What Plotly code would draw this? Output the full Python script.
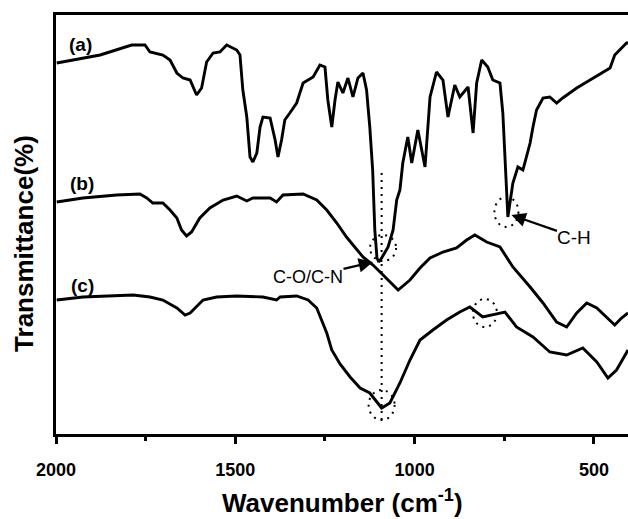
import plotly.graph_objects as go

# ---- data (wavenumber cm^-1, relative transmittance) ----
wn_a = [1998, 1877, 1789, 1752, 1738, 1702, 1682, 1663, 1646, 1626, 1608, 1594, 1580, 1562, 1543,
        1524, 1496, 1487, 1479, 1468, 1459, 1451, 1440, 1431, 1423, 1403, 1389, 1381, 1371, 1362,
        1348, 1329, 1311, 1283, 1264, 1250, 1242, 1231, 1222, 1214, 1200, 1186, 1172, 1158, 1144,
        1134, 1125, 1117, 1111, 1105, 1100, 1092, 1074, 1060, 1050, 1041, 1033, 1019, 1008, 991,
        971, 957, 939, 921, 907, 888, 874, 851, 837, 827, 813, 796, 782, 762, 754,
        743, 740, 726, 712, 698, 678, 670, 660, 642, 623, 604, 587, 548, 511, 475,
        455, 442, 428, 409, 405]
tr_a = [371, 379, 389, 389, 382, 379, 374, 361, 356, 354, 339, 346, 372, 381, 382,
        389, 384, 379, 344, 317, 277, 272, 281, 307, 317, 316, 294, 277, 294, 314,
        321, 331, 351, 357, 369, 367, 334, 307, 334, 352, 341, 356, 337, 356, 361,
        344, 307, 264, 204, 176, 172, 176, 187, 204, 234, 244, 271, 297, 271, 304,
        267, 337, 362, 354, 317, 349, 337, 347, 301, 351, 374, 367, 354, 351, 321,
        237, 217, 251, 267, 264, 291, 307, 324, 336, 337, 331, 336, 346, 354, 362,
        366, 379, 384, 391, 391]

wn_b = [1998, 1925, 1831, 1766, 1747, 1730, 1702, 1682, 1663, 1650, 1636, 1622, 1599, 1571, 1534,
        1496, 1468, 1451, 1403, 1385, 1367, 1311, 1273, 1245, 1217, 1190, 1144, 1116, 1088, 1046,
        1013, 985, 957, 921, 883, 855, 832, 799, 762, 726, 678, 642, 604, 576, 548,
        520, 492, 465, 442, 423, 405]
tr_b = [232, 236, 239, 240, 236, 231, 231, 224, 216, 204, 198, 202, 216, 226, 234,
        238, 233, 236, 236, 232, 239, 240, 234, 224, 211, 197, 177, 169, 159, 144,
        154, 166, 176, 182, 186, 194, 199, 192, 187, 167, 147, 131, 112, 107, 121,
        131, 126, 117, 109, 116, 121]

wn_c = [1998, 1925, 1785, 1738, 1702, 1663, 1640, 1626, 1590, 1552, 1496, 1423, 1385, 1375, 1329,
        1297, 1273, 1259, 1245, 1231, 1208, 1180, 1152, 1125, 1092, 1069, 1041, 1013, 985, 949,
        911, 874, 846, 810, 782, 748, 716, 670, 623, 576, 531, 492, 461, 437, 405]
tr_c = [134, 137, 139, 137, 134, 126, 119, 121, 134, 137, 138, 137, 134, 137, 138,
        134, 126, 114, 101, 84, 70, 57, 46, 41, 26, 31, 51, 74, 94, 104,
        114, 122, 127, 117, 119, 122, 107, 97, 82, 79, 86, 72, 56, 64, 84]

series_labels = ["(a)", "(b)", "(c)"]
label_wn = [1933, 1927, 1927]
label_tr = [390, 251, 149]

tick_vals = [2000, 1500, 1000, 500]
tick_text = ["2000", "1500", "1000", "500"]
minor_vals = [1750, 1250, 750]

# marked bands
guide_wn = 1092
guide_tr = [14, 261]
ellipse_wn = [1088, 744, 804, 1092]
ellipse_tr = [186, 222, 121, 29]
ellipse_rx = [13, 12, 12, 13]
ellipse_ry = [13, 15, 14, 15]

# band labels: text, arrow-head position (wn, tr)
band_text = ["C-O/C-N", "C-H"]
band_wn = [1116, 730]
band_tr = [172, 219]

FONT = "Arial, 'Liberation Sans', Helvetica, sans-serif"

fig = go.Figure()
for wn, tr in [(wn_a, tr_a), (wn_b, tr_b), (wn_c, tr_c)]:
    fig.add_trace(go.Scatter(x=wn, y=tr, mode="lines",
                             line=dict(color="black", width=2.9),
                             showlegend=False, hoverinfo="skip"))

# vertical dotted guide
fig.add_trace(go.Scatter(x=[guide_wn, guide_wn], y=guide_tr, mode="lines",
                         line=dict(color="black", width=2, dash="2px,5px"),
                         showlegend=False, hoverinfo="skip"))

for cx, cy, rx, ry in zip(ellipse_wn, ellipse_tr, ellipse_rx, ellipse_ry):
    fig.add_shape(type="circle", xref="x", yref="y",
                  xsizemode="pixel", ysizemode="pixel",
                  xanchor=cx, yanchor=cy,
                  x0=-rx, x1=rx, y0=-ry, y1=ry,
                  line=dict(color="black", width=2, dash="2px,5px"))

for lab, lx, ly in zip(series_labels, label_wn, label_tr):
    fig.add_annotation(x=lx, y=ly, text="<b>%s</b>" % lab, showarrow=False,
                       font=dict(family=FONT, size=19, color="black"))

# band labels with arrows (text offset in px from the arrow head)
offsets = [(-65, 15), (63, 22)]
sizes = [18, 19]
for txt, hx, hy, (ox, oy), fs in zip(band_text, band_wn, band_tr, offsets, sizes):
    fig.add_annotation(x=hx, y=hy, text=txt, showarrow=True, ax=ox, ay=oy,
                       arrowhead=2, arrowsize=1.3, arrowwidth=2.2,
                       arrowcolor="black", standoff=0, borderpad=0,
                       font=dict(family=FONT, size=fs, color="black"))

# axis titles
fig.add_annotation(xref="paper", yref="paper", x=-0.056, y=0.456,
                   xanchor="center", yanchor="middle",
                   text="<b>Transmittance(%)</b>", textangle=-90, showarrow=False,
                   font=dict(family=FONT, size=26, color="black"))
fig.add_annotation(xref="paper", yref="paper", x=0.5, y=-0.162,
                   xanchor="center", yanchor="middle",
                   text="<b>Wavenumber (cm<sup>-1</sup>)</b>", showarrow=False,
                   font=dict(family=FONT, size=26, color="black"))

fig.update_layout(
    width=628, height=519,
    margin=dict(l=56, r=0, t=15, b=85),
    paper_bgcolor="white", plot_bgcolor="white",
    font=dict(family=FONT, color="black"),
    xaxis=dict(range=[2000, 405], showgrid=False, zeroline=False,
               showline=True, linecolor="black", linewidth=3, mirror=True,
               ticks="outside", ticklen=7, tickwidth=2.5, tickcolor="black",
               tickvals=tick_vals, ticktext=["<b>%s</b>" % t for t in tick_text],
               tickfont=dict(family=FONT, size=18, color="black"),
               ticklabelstandoff=10,
               minor=dict(tickvals=minor_vals, ticks="outside", ticklen=4,
                          tickwidth=2.5, tickcolor="black", showgrid=False)),
    yaxis=dict(range=[0, 419], showgrid=False, zeroline=False,
               showline=True, linecolor="black", linewidth=3,
               showticklabels=False, ticks=""),
)

fig.write_html("out.html")
